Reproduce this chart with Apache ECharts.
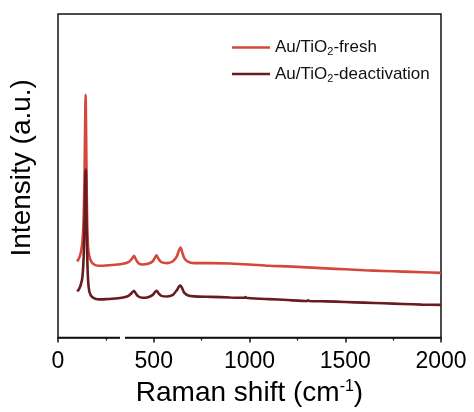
<!DOCTYPE html>
<html>
<head>
<meta charset="utf-8">
<script src="https://cdn.jsdelivr.net/npm/echarts@6/dist/echarts.min.js"></script>
<style>
  html, body { margin: 0; padding: 0; background: #fff; }
  #main { width: 474px; height: 412px; }
</style>
</head>
<body>
<div id="main"></div>
<script>
// Raman shift (cm-1) vs intensity (a.u.)
const xTicks = [0, 500, 1000, 1500, 2000];
const seriesNames = ['Au/TiO2-fresh', 'Au/TiO2-deactivation'];

const fresh = [
  [100, 23.5], [110, 24.5], [120, 26.5], [128, 30], [134, 37], [138, 48], [141, 62],
  [143, 72], [144, 75], [145, 73], [147, 62], [150, 45], [153, 34], [157, 28],
  [162, 25.5], [170, 24], [180, 23], [195, 22.4], [215, 22.2], [250, 22.3],
  [300, 22.5], [340, 22.8], [370, 23.4], [385, 24.3], [397, 25.3], [408, 24],
  [420, 23], [440, 22.6], [470, 22.8], [495, 23.6], [507, 24.8], [515, 25.4],
  [525, 24.3], [540, 23.3], [570, 23.0], [600, 23.6], [620, 25], [632, 27],
  [640, 27.8], [648, 26.5], [660, 24.5], [680, 23.4], [710, 23.0], [800, 23.0],
  [900, 22.9], [1000, 22.6], [1100, 22.2], [1200, 22.0], [1300, 21.7], [1400, 21.4],
  [1500, 21.1], [1600, 20.8], [1700, 20.6], [1800, 20.4], [1900, 20.2], [2000, 20.0]
];

const deactivation = [
  [100, 14.3], [110, 15], [120, 16.5], [128, 19], [134, 25], [138, 34], [141, 44],
  [143, 50], [145, 51.9], [146, 50.5], [148, 42], [151, 30], [154, 22], [158, 17],
  [163, 14.5], [170, 13.2], [180, 12.5], [195, 12.0], [215, 11.8], [250, 11.9],
  [300, 12.1], [340, 12.4], [370, 13.0], [385, 13.8], [397, 14.5], [408, 13.5],
  [420, 12.7], [440, 12.3], [470, 12.5], [495, 13.2], [507, 14.1], [515, 14.5],
  [525, 13.7], [540, 12.9], [570, 12.7], [600, 13.2], [620, 14.6], [632, 15.8],
  [640, 16.1], [648, 15.3], [660, 13.8], [680, 13.0], [710, 12.75], [800, 12.6],
  [900, 12.4], [975, 12.3], [979, 12.55], [983, 12.3], [1057, 12.0], [1100, 11.9],
  [1200, 11.6], [1300, 11.3], [1307, 11.55], [1312, 11.3], [1400, 11.2], [1500, 11.0],
  [1600, 10.8], [1700, 10.6], [1800, 10.4], [1900, 10.2], [2000, 10.1]
];

const colorList = ['#d4473a', '#681c20'];
const font = '"Liberation Sans", Arial, sans-serif';

var chart = echarts.init(document.getElementById('main'), null, { width: 474, height: 412 });

var option = {
  backgroundColor: '#fff',
  animation: false,
  grid: {
    left: 57, right: 33, top: 14, bottom: 74,
    show: true,
    borderColor: '#111',
    borderWidth: 1.5
  },
  legend: {
    orient: 'vertical',
    left: 227,
    top: 34,
    icon: 'rect',
    itemWidth: 38,
    itemHeight: 2.6,
    itemGap: 8,
    data: seriesNames,
    formatter: function (name) {
      return name.replace('TiO2', 'TiO{sub|2}');
    },
    textStyle: {
      fontFamily: font,
      fontSize: 17,
      color: '#111',
      rich: {
        sub: { fontSize: 11, verticalAlign: 'bottom', padding: [9, 0, 0, 0], fontFamily: font, color: '#111' }
      }
    }
  },
  xAxis: {
    type: 'value',
    min: 0,
    max: 2000,
    interval: 500,
    name: 'Raman shift (cm{sup|-1})',
    nameLocation: 'middle',
    nameGap: 36,
    nameTextStyle: {
      fontFamily: font,
      fontSize: 28,
      color: '#000',
      rich: {
        sup: { fontSize: 16, verticalAlign: 'top', padding: [0, 0, 13, 0], fontFamily: font, color: '#000' }
      }
    },
    axisLine: { show: true, onZero: false, lineStyle: { color: '#111', width: 1.5 } },
    axisTick: { show: true, inside: false, length: 5, lineStyle: { color: '#111', width: 1.5 } },
    minorTick: { show: true, splitNumber: 2, length: 3, lineStyle: { color: '#111', width: 1.2 } },
    axisLabel: {
      margin: 13,
      fontFamily: font,
      fontSize: 23,
      color: '#000',
      formatter: function (v) { return String(v); }
    },
    splitLine: { show: false }
  },
  yAxis: {
    type: 'value',
    min: 0,
    max: 100,
    name: 'Intensity (a.u.)',
    nameLocation: 'middle',
    nameGap: 22,
    nameTextStyle: { fontFamily: font, fontSize: 28, color: '#000', padding: [0, 0, 0, 16] },
    axisLine: { show: false },
    axisTick: { show: false },
    axisLabel: { show: false },
    splitLine: { show: false }
  },
  graphic: [{
    type: 'rect',
    shape: { x: 120, y: 336, width: 5, height: 10 },
    style: { fill: '#fff' },
    z: 100
  }],
  series: [{
    name: seriesNames[0],
    type: 'line',
    showSymbol: false,
    symbol: 'none',
    smooth: 0.2,
    lineStyle: { width: 2.6, color: colorList[0] },
    itemStyle: { color: colorList[0] },
    data: fresh
  }, {
    name: seriesNames[1],
    type: 'line',
    showSymbol: false,
    symbol: 'none',
    smooth: 0.2,
    lineStyle: { width: 2.6, color: colorList[1] },
    itemStyle: { color: colorList[1] },
    data: deactivation
  }]
};

chart.setOption(option);

window.onresize = function () {
  chart.resize();
};
</script>
</body>
</html>
